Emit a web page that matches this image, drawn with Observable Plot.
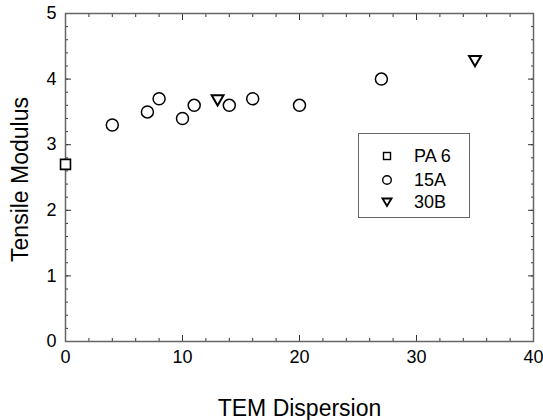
<!DOCTYPE html>
<html>
<head>
<meta charset="utf-8">
<script src="https://cdn.jsdelivr.net/npm/d3@7"></script>
<script src="https://cdn.jsdelivr.net/npm/@observablehq/plot@0.6"></script>
<style>
  html, body { margin: 0; padding: 0; background: #fff; }
  #wrap { position: relative; width: 543px; height: 420px; font-family: "Liberation Sans", Arial, sans-serif; }
  #legend { position: absolute; left: 358px; top: 133px; width: 110px; height: 83px; border: 1px solid #666; background: #fff; }
  .row { position: absolute; left: 0; height: 20px; }
  .row svg { position: absolute; left: 18px; top: 0; }
  .row span { position: absolute; left: 55px; top: 0; font-size: 18px; color: #000; white-space: nowrap; line-height: 20px; }
</style>
</head>
<body>
<div id="wrap"></div>
<script>
// ---- data ----
const seriesNames = ["PA 6", "15A", "30B"];
const pa6X = [0];
const pa6Y = [2.7];
const a15X = [4, 7, 8, 10, 11, 14, 16, 20, 27];
const a15Y = [3.3, 3.5, 3.7, 3.4, 3.6, 3.6, 3.7, 3.6, 4.0];
const b30X = [13, 35];
const b30Y = [3.7, 4.3];
const xTicks = [0, 10, 20, 30, 40];
const yTicks = [0, 1, 2, 3, 4, 5];
const xMinor = [0, 2, 4, 6, 8, 10, 12, 14, 16, 18, 20, 22, 24, 26, 28, 30, 32, 34, 36, 38, 40];
const yMinor = [0, 0.2, 0.4, 0.6, 0.8, 1, 1.2, 1.4, 1.6, 1.8, 2, 2.2, 2.4, 2.6, 2.8, 3, 3.2, 3.4, 3.6, 3.8, 4, 4.2, 4.4, 4.6, 4.8, 5];
const xTitle = "TEM Dispersion";
const yTitle = "Tensile Modulus";

const pa6 = pa6X.map((x, i) => ({x, y: pa6Y[i]}));
const a15 = a15X.map((x, i) => ({x, y: a15Y[i]}));
const b30 = b30X.map((x, i) => ({x, y: b30Y[i]}));

const font = "Liberation Sans, Arial, sans-serif";
const tickColor = "#333";
const blank = () => "";
const intFmt = d3.format("d");

const tickX = (anchor, ticks, size) => Plot.axisX({anchor, ticks, tickSize: size, tickFormat: blank, label: null, stroke: tickColor});
const tickY = (anchor, ticks, size) => Plot.axisY({anchor, ticks, tickSize: size, tickFormat: blank, label: null, stroke: tickColor});

const chart = Plot.plot({
  width: 543,
  height: 420,
  marginLeft: 65,
  marginRight: 10,
  marginTop: 13,
  marginBottom: 79,
  style: {fontFamily: font, fontSize: "18px", background: "#fff", color: "#000", overflow: "visible"},
  x: {domain: [0, 40]},
  y: {domain: [0, 5]},
  marks: [
    tickX("bottom", xMinor, -3),
    tickX("top", xMinor, -3),
    tickY("left", yMinor, -3),
    tickY("right", yMinor, -3),
    tickX("bottom", xTicks, -6),
    tickX("top", xTicks, -6),
    tickY("left", yTicks, -6),
    tickY("right", yTicks, -6),
    Plot.frame({stroke: "#666", strokeWidth: 1.5}),
    // tick labels
    Plot.axisX({anchor: "bottom", ticks: xTicks, tickFormat: intFmt, tickSize: 0, tickPadding: 9, fontSize: 18, label: null}),
    Plot.axisY({anchor: "left", ticks: yTicks, tickFormat: intFmt, tickSize: 0, tickPadding: 9, fontSize: 18, label: null}),
    // axis titles
    Plot.text([xTitle], {frameAnchor: "bottom", dy: 67, fontSize: 23, fill: "#000", textAnchor: "middle", lineAnchor: "middle"}),
    Plot.text([yTitle], {frameAnchor: "left", dx: -45, dy: 2, rotate: -90, fontSize: 23, fill: "#000", textAnchor: "middle", lineAnchor: "middle"}),
    // data
    Plot.dot(pa6, {x: "x", y: "y", symbol: "square", r: 5.6, stroke: "#000", strokeWidth: 1.6, fill: "#fff"}),
    Plot.dot(a15, {x: "x", y: "y", symbol: "circle", r: 6, stroke: "#000", strokeWidth: 1.5, fill: "none"}),
    Plot.dot(b30, {x: "x", y: "y", symbol: "triangle", rotate: 180, r: 4.4, stroke: "#000", strokeWidth: 2, fill: "none"})
  ]
});

const wrap = document.getElementById("wrap");
wrap.appendChild(chart);

// legend
const legend = document.createElement("div");
legend.id = "legend";
const rowTops = [12, 36, 58];
const icons = [
  '<svg width="20" height="20"><rect x="6.5" y="6.5" width="7" height="7" fill="none" stroke="#000" stroke-width="1.4"/></svg>',
  '<svg width="20" height="20"><circle cx="10" cy="10" r="4.3" fill="none" stroke="#000" stroke-width="1.4"/></svg>',
  '<svg width="20" height="20"><path d="M5.5,6.5 L14.5,6.5 L10,14 Z" fill="none" stroke="#000" stroke-width="1.9" stroke-linejoin="miter"/></svg>'
];
seriesNames.forEach((name, i) => {
  const row = document.createElement("div");
  row.className = "row";
  row.style.top = rowTops[i] + "px";
  row.innerHTML = icons[i] + "<span>" + name + "</span>";
  legend.appendChild(row);
});
wrap.appendChild(legend);
</script>
</body>
</html>
